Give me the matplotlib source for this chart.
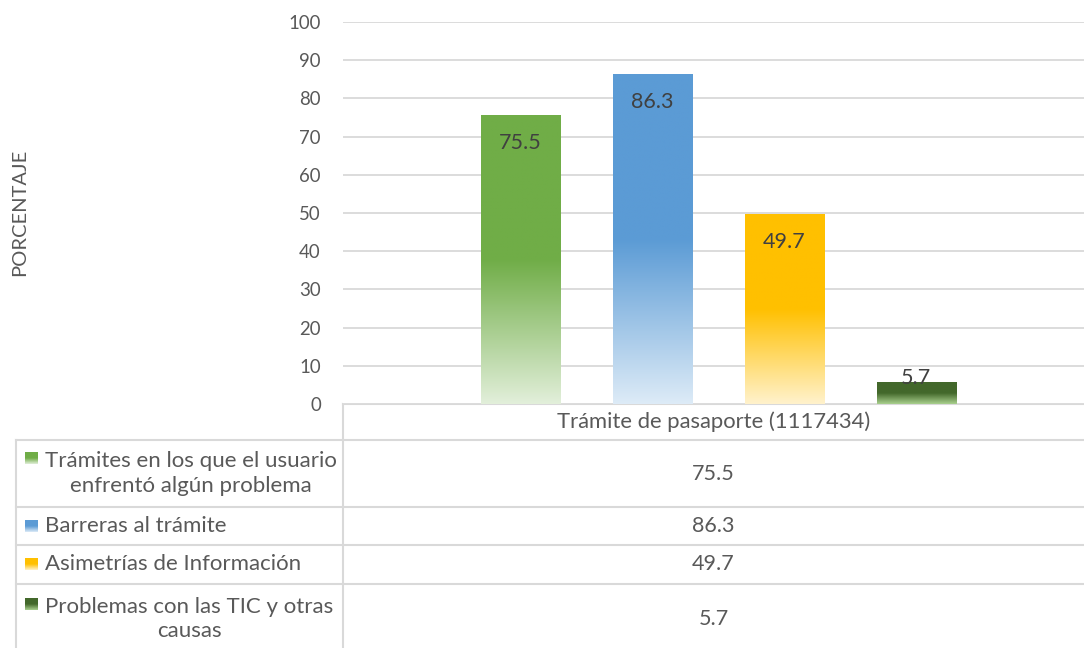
import numpy as np
import matplotlib.pyplot as plt
from matplotlib.colors import to_rgb

plt.rcParams['font.family'] = ['Lato', 'DejaVu Sans']

# data
categories = ["Trámites en los que el usuario\nenfrentó algún problema",
              "Barreras al trámite",
              "Asimetrías de Información",
              "Problemas con las TIC y otras\ncausas"]
values = [75.5, 86.3, 49.7, 5.7]
group_label = "Trámite de pasaporte (1117434)"
yticks = list(range(0, 101, 10))

solid = ['#70AD47', '#5B9BD5', '#FFC000', '#43682B']
light = ['#E2EFDA', '#DDEBF7', '#FFF2CC', '#A9D08E']

txt = '#595959'
grid_c = '#D9D9D9'

W, H = 1084, 648
fig = plt.figure(figsize=(W / 100, H / 100), dpi=100)


def grad(c1, c2, n=200):
    a = np.array(to_rgb(c1))
    b = np.array(to_rgb(c2))
    t = np.linspace(0, 1, n)
    f = np.clip((t - 0.5) / 0.5, 0, 1)[:, None]
    return (a * (1 - f) + b * f)[:, None, :]


# chart area
ax = fig.add_axes([343 / W, 1 - 404 / H, (1084 - 343) / W, (404 - 22) / H])
ax.set_yticks(yticks)
ax.set_xticks([])
ax.tick_params(axis='y', length=0, pad=16, labelsize=13.4, labelcolor=txt)
for s in ax.spines.values():
    s.set_visible(False)
ax.yaxis.grid(True, color=grid_c, lw=1.3)
ax.set_axisbelow(True)

w = 0.6
for i, v in enumerate(values):
    img = grad(solid[i], light[i])
    ax.imshow(img, extent=(i - w / 2, i + w / 2, 0, v), aspect='auto',
              zorder=2, interpolation='bilinear')
    ly = v - 7.3 if v > 15 else v + 1.1
    ax.text(i, ly, f"{v:.1f}", ha='center', va='center', fontsize=15.5,
            color='#404040', zorder=3)
ax.set_xlim(-1.345, 4.27)
ax.set_ylim(0, 100)

fig.text(20 / W, 1 - 212 / H, 'PORCENTAJE', rotation=90, ha='center',
         va='center', fontsize=14.5, color=txt)

# data table
tax = fig.add_axes([0, 0, 1, 1], zorder=-1)
tax.axis('off')
tax.patch.set_alpha(0)

row_edges = [440, 507, 545, 584, 660]
tax.plot([343, W], [404, 404], color=grid_c, lw=1.5)
tax.plot([343, 343], [404, H], color=grid_c, lw=1.5)
tax.plot([16, 16], [440, H], color=grid_c, lw=1.5)
for yy in row_edges[:-1]:
    tax.plot([16, W], [yy, yy], color=grid_c, lw=1.5)

tax.text((343 + W) / 2, 422, group_label, ha='center', va='center',
         fontsize=15.8, color=txt)

for i, lab in enumerate(categories):
    top, bot = row_edges[i], min(row_edges[i + 1], H + 6)
    yc = (top + bot) / 2
    tax.text(45, yc, lab, ha='left', va='center', multialignment='center',
             fontsize=16, color=txt, linespacing=1.3)
    nlines = lab.count('\n') + 1
    ky = yc - (nlines - 1) * 15
    tax.imshow(grad(solid[i], light[i]), extent=(25, 38, ky + 6, ky - 6),
               aspect='auto', zorder=2)
    tax.text((343 + W) / 2, yc, f"{values[i]:.1f}", ha='center',
             va='center', fontsize=15.5, color=txt)
tax.set_xlim(0, W)
tax.set_ylim(H, 0)

fig.savefig('out.png', dpi=100)
